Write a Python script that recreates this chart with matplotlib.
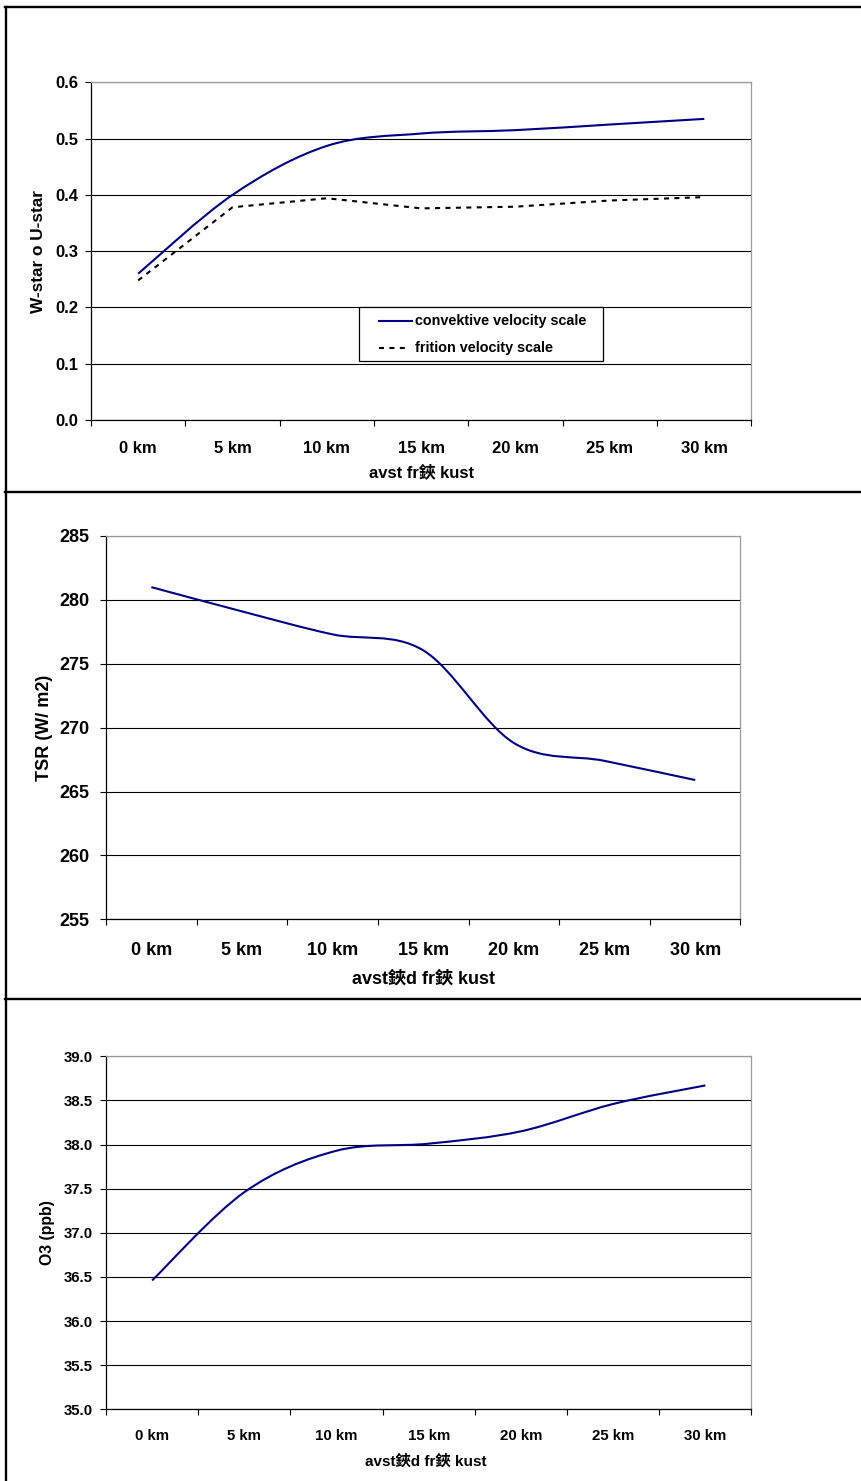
import matplotlib
matplotlib.use("Agg")
import matplotlib.pyplot as plt
import numpy as np
from matplotlib.path import Path
from matplotlib.patches import PathPatch, Rectangle
from matplotlib.lines import Line2D
from matplotlib.ticker import FixedLocator, FormatStrFormatter

plt.rcParams['font.family'] = ['Liberation Sans', 'Noto Sans CJK SC']
plt.rcParams['font.weight'] = 'bold'
plt.rcParams['axes.labelweight'] = 'bold'

W, H = 862, 1481

# distance from the coast
distances = ['0 km', '5 km', '10 km', '15 km', '20 km', '25 km', '30 km']

# velocity scales (m/s)
series_names = ['convektive velocity scale', 'frition velocity scale']
w_star = [0.260, 0.400, 0.487, 0.509, 0.515, 0.525, 0.535]
u_star = [0.248, 0.378, 0.394, 0.376, 0.379, 0.390, 0.396]

# total solar radiation (W/m2)
tsr = [281.0, 279.1, 277.3, 276.05, 268.8, 267.4, 265.9]

# ozone (ppb)
o3 = [36.46, 37.46, 37.93, 38.01, 38.15, 38.46, 38.67]

NAVY = '#000080'
DASH = (0, (2.4, 2.6))


def smooth_path(xs, ys):
    """Bezier path through the points, like a spreadsheet 'smoothed line'."""
    n = len(xs)
    verts = [(xs[0], ys[0])]
    codes = [Path.MOVETO]
    for i in range(n - 1):
        a = max(i - 1, 0)
        b = min(i + 2, n - 1)
        c1 = (xs[i] + (xs[i + 1] - xs[a]) / 6, ys[i] + (ys[i + 1] - ys[a]) / 6)
        c2 = (xs[i + 1] - (xs[b] - xs[i]) / 6, ys[i + 1] - (ys[b] - ys[i]) / 6)
        verts += [c1, c2, (xs[i + 1], ys[i + 1])]
        codes += [Path.CURVE4] * 3
    return Path(verts, codes)


def add_axes_px(fig, left, top, right, bottom):
    return fig.add_axes([left / W, 1 - bottom / H, (right - left) / W, (bottom - top) / H])


def style_axes(ax, yticks, fmt, fs, xpad, ypad):
    ax.set_xlim(-0.5, len(distances) - 0.5)
    ax.set_ylim(yticks[0], yticks[-1])
    ax.yaxis.set_major_locator(FixedLocator(yticks))
    ax.yaxis.set_major_formatter(FormatStrFormatter(fmt))
    ax.set_xticks(range(len(distances)))
    ax.set_xticklabels(distances)
    ax.xaxis.set_minor_locator(FixedLocator(np.arange(-0.5, len(distances), 1.0)))
    ax.tick_params(axis='x', which='major', length=0, pad=xpad, labelsize=fs)
    ax.tick_params(axis='x', which='minor', length=4, width=0.8, direction='out')
    ax.tick_params(axis='y', length=4, width=0.8, direction='out', pad=ypad, labelsize=fs)
    ax.grid(axis='y', color='black', linewidth=0.8)
    ax.set_axisbelow(True)
    for side in ('left', 'bottom'):
        ax.spines[side].set_color('black')
        ax.spines[side].set_linewidth(0.9)
    for side in ('top', 'right'):
        ax.spines[side].set_color('#9a9a9a')
        ax.spines[side].set_linewidth(0.9)


def fx(px):
    return px / W


def fy(py):
    return 1 - py / H


fig = plt.figure(figsize=(W / 100, H / 100), dpi=100)
x = np.arange(len(distances))

# --- panel 1: W-star / U-star ---
ax1 = add_axes_px(fig, 91, 82.3, 751.5, 420)
style_axes(ax1, np.round(np.arange(0, 0.61, 0.1), 1), '%.1f', 12, 15, 5.3)
ax1.add_patch(PathPatch(smooth_path(x, w_star), facecolor='none', edgecolor=NAVY,
                        linewidth=1.5, capstyle='butt', zorder=3))
ax1.plot(x, u_star, color='black', linewidth=1.5, linestyle=DASH, zorder=3)
ax1.set_ylabel('W-star o U-star', fontsize=12.4, va='center')
ax1.yaxis.set_label_coords(-0.080, 0.5)
ax1.set_xlabel('avst fr鋏 kust', fontsize=12, va='center')
ax1.xaxis.set_label_coords(0.5, -0.154)

# legend box
fig.add_artist(Rectangle((fx(359.5), fy(360.7)), (603 - 359.5) / W, (360.7 - 306.7) / H,
                         transform=fig.transFigure, facecolor='white', edgecolor='black',
                         linewidth=0.9, zorder=5))
fig.add_artist(Line2D([fx(379), fx(412)], [fy(321), fy(321)], color=NAVY, linewidth=1.5,
                      transform=fig.transFigure, zorder=6))
fig.add_artist(Line2D([fx(379), fx(405)], [fy(348), fy(348)], color='black', linewidth=1.5,
                      linestyle=DASH, transform=fig.transFigure, zorder=6))
fig.text(fx(415), fy(321), series_names[0], fontsize=10.4, va='center', ha='left', zorder=6)
fig.text(fx(415), fy(348), series_names[1], fontsize=10.4, va='center', ha='left', zorder=6)

# --- panel 2: TSR ---
ax2 = add_axes_px(fig, 106, 536, 740.5, 919.3)
style_axes(ax2, np.arange(255, 286, 5), '%d', 13, 16.5, 8)
ax2.add_patch(PathPatch(smooth_path(x, tsr), facecolor='none', edgecolor=NAVY,
                        linewidth=1.5, capstyle='butt', zorder=3))
ax2.set_ylabel('TSR (W/ m2)', fontsize=13, va='center')
ax2.yaxis.set_label_coords(-0.0977, 0.5)
ax2.set_xlabel('avst鋏d fr鋏 kust', fontsize=13, va='center')
ax2.xaxis.set_label_coords(0.5, -0.156)

# --- panel 3: O3 ---
ax3 = add_axes_px(fig, 106, 1056.3, 751.5, 1409.3)
style_axes(ax3, np.round(np.arange(35, 39.01, 0.5), 1), '%.1f', 10.8, 13.9, 5.4)
ax3.add_patch(PathPatch(smooth_path(x, o3), facecolor='none', edgecolor=NAVY,
                        linewidth=1.5, capstyle='butt', zorder=3))
ax3.set_ylabel('O3 (ppb)', fontsize=11.4, va='center')
ax3.yaxis.set_label_coords(-0.0899, 0.5)
ax3.set_xlabel('avst鋏d fr鋏 kust', fontsize=11, va='center')
ax3.xaxis.set_label_coords(0.496, -0.148)

# panel frames
frame = dict(color='black', linewidth=1.7, transform=fig.transFigure)
fig.add_artist(Line2D([fx(6.5), fx(6.5)], [fy(7), 0], **frame))
for py in (7, 492, 999):
    fig.add_artist(Line2D([fx(5.5), 1], [fy(py), fy(py)], **frame))

fig.savefig('out.png', dpi=100, facecolor='white')
